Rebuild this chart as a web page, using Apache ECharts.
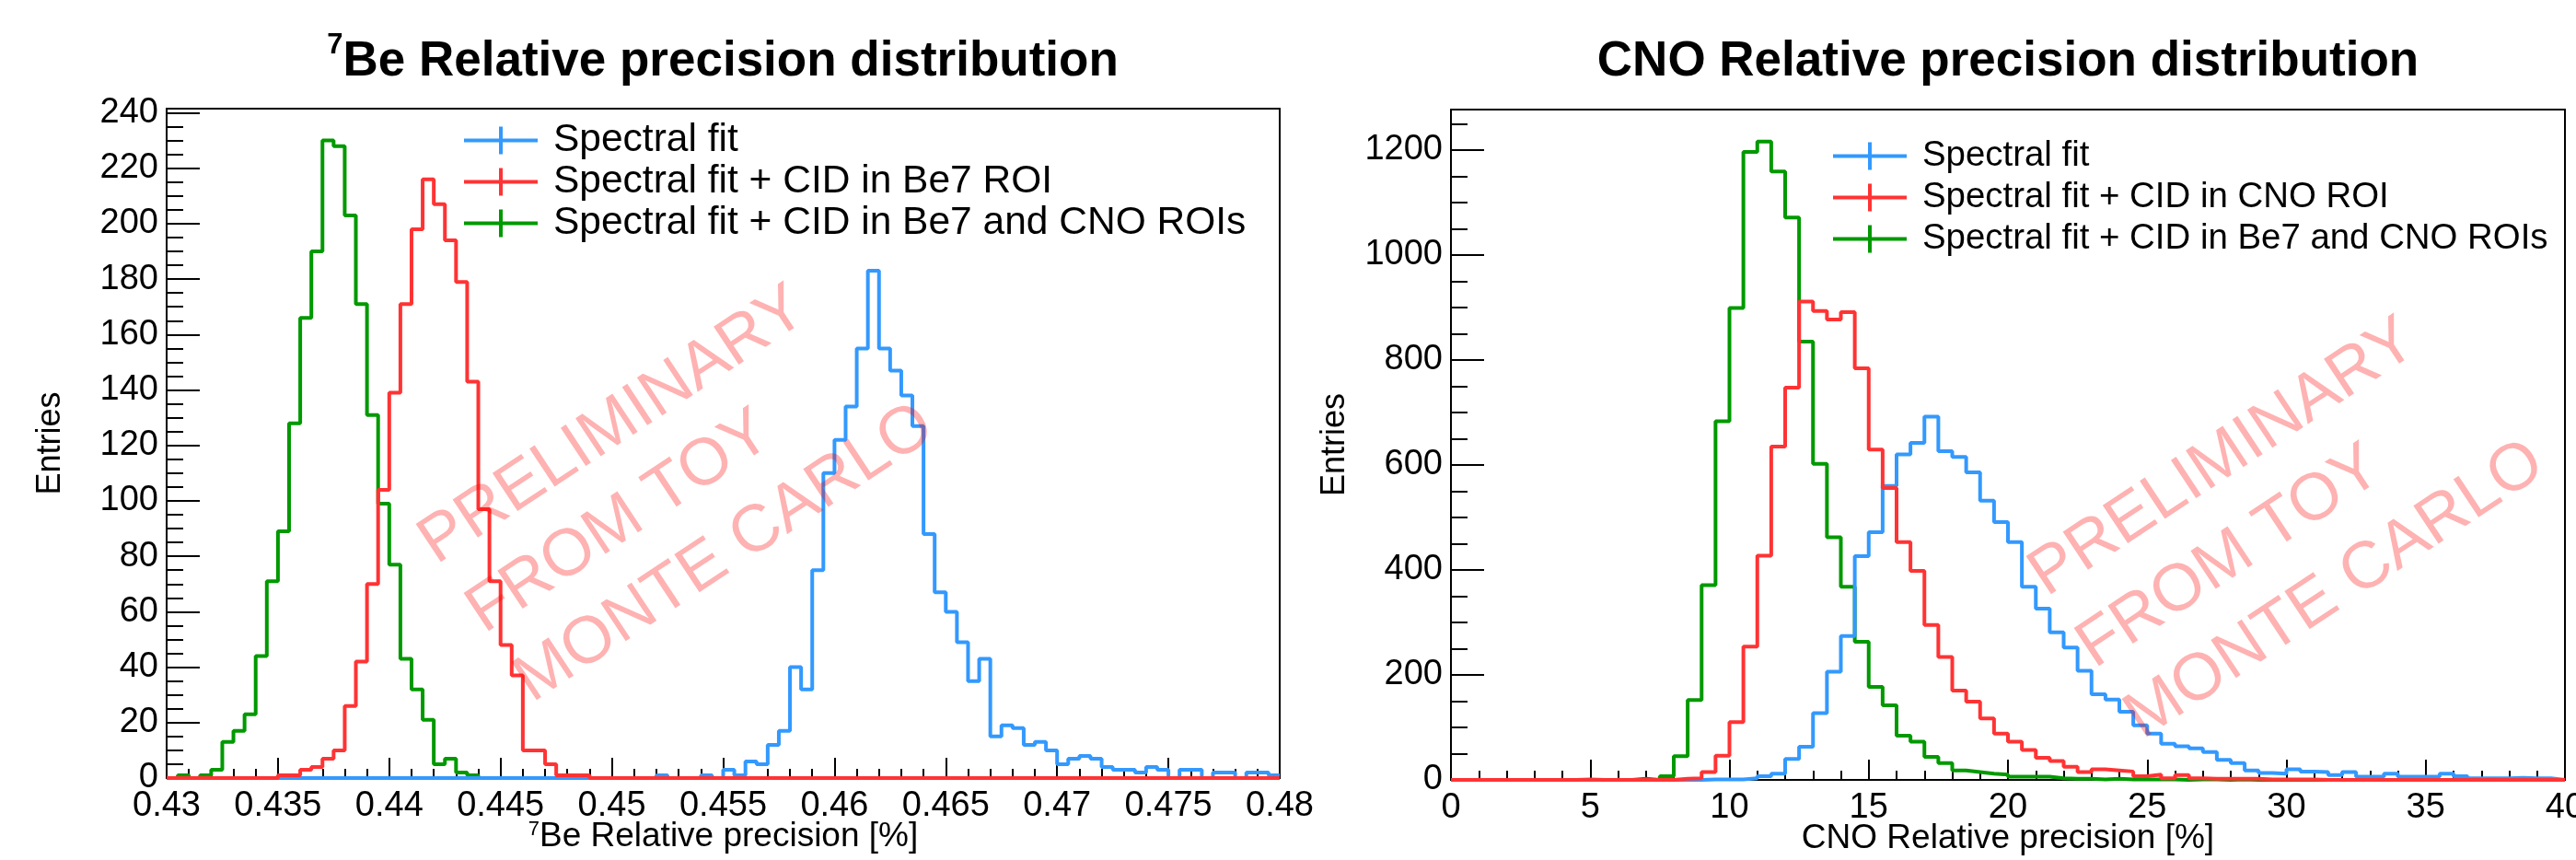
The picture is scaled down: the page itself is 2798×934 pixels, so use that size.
<!DOCTYPE html>
<html>
<head>
<meta charset="utf-8">
<script src="https://cdn.jsdelivr.net/npm/echarts@6/dist/echarts.min.js"></script>
<style>
  html, body { margin: 0; padding: 0; background: #fff; }
  #chart { width: 2798px; height: 934px; }
</style>
</head>
<body>
<div id="chart"></div>
<script>
// binning
const beRange = [0.43, 0.48];
const beBinWidth = 0.0005;
const cnoRange = [0, 40];
const cnoBinWidth = 0.5;

// 7Be relative precision, 100 bins
const beSpectral = [
  0,0,0,0,0,0,0,0,0,0,
  0,0,0,0,0,0,0,0,0,0,
  0,0,0,0,0,0,0,0,0,0,
  0,0,0,0,0,0,0,0,0,0,
  0,0,0,0,1,0,0,0,1,0,
  3,1,6,5,12,17,40,32,75,110,
  122,134,155,183,155,147,138,127,88,67,
  60,49,35,43,15,19,18,12,13,10,
  5,7,8,7,4,3,3,2,4,3,
  0,3,3,0,2,2,0,2,2,1
];
const beCidBe7 = [
  0,0,0,0,0,0,0,0,0,0,
  1,1,3,4,7,10,26,42,70,104,
  139,171,198,216,207,194,179,143,97,71,
  48,37,10,10,5,1,1,1,0,0,
  0,0,0,0,0,0,0,0,0,0,
  0,0,0,0,0,0,0,0,0,0,
  0,0,0,0,0,0,0,0,0,0,
  0,0,0,0,0,0,0,0,0,0,
  0,0,0,0,0,0,0,0,0,0,
  0,0,0,0,0,0,0,0,0,0
];
const beCidBoth = [
  0,1,0,1,3,13,17,23,44,71,
  89,128,166,190,230,228,203,171,131,99,
  77,43,32,21,5,7,2,1,0,0,
  0,0,0,0,0,0,0,0,0,0,
  0,0,0,0,0,0,0,0,0,0,
  0,0,0,0,0,0,0,0,0,0,
  0,0,0,0,0,0,0,0,0,0,
  0,0,0,0,0,0,0,0,0,0,
  0,0,0,0,0,0,0,0,0,0,
  0,0,0,0,0,0,0,0,0,0
];

// CNO relative precision, 80 bins
const cnoSpectral = [
  0,0,0,0,0,0,0,0,0,0,
  0,0,0,0,0,0,0,0,1,1,
  1,3,7,12,40,63,127,206,274,426,
  472,560,620,642,692,626,615,586,532,491,
  453,368,326,281,252,208,163,153,130,104,
  88,69,64,60,53,38,32,18,13,12,
  20,16,15,9,15,6,6,12,6,6,
  6,12,7,3,3,3,4,3,3,0
];
const cnoCidCno = [
  0,0,0,0,0,0,0,0,0,1,
  0,0,0,0,0,0,2,3,15,46,
  110,254,427,635,747,911,893,877,891,784,
  629,556,453,398,295,234,170,149,117,88,
  73,57,42,36,25,15,20,18,16,7,
  10,3,9,3,2,2,2,2,1,1,
  1,1,0,0,0,0,0,0,0,0,
  0,0,0,0,0,0,0,0,0,0
];
const cnoCidBoth = [
  0,0,0,0,0,0,0,0,0,0,
  0,0,0,2,0,7,45,152,371,683,
  899,1196,1216,1159,1071,835,602,462,368,263,
  177,142,84,73,44,32,18,15,12,10,
  6,6,6,3,2,2,1,2,1,1,
  1,1,0,1,1,0,1,0,0,0,
  0,0,0,0,0,0,0,0,0,0,
  0,0,0,0,0,0,0,0,0,0
];

// axis ranges and ticks
const beYMax = 241.5;
const cnoYMax = 1276.8;
const beYTicks = [0,20,40,60,80,100,120,140,160,180,200,220,240];
const beYMinor = [0,5,10,15,20,25,30,35,40,45,50,55,60,65,70,75,80,85,90,95,100,105,110,115,120,
  125,130,135,140,145,150,155,160,165,170,175,180,185,190,195,200,205,210,215,220,225,230,235,240];
const cnoYTicks = [0,200,400,600,800,1000,1200];
const cnoYMinor = [0,50,100,150,200,250,300,350,400,450,500,550,600,650,700,750,800,850,900,950,
  1000,1050,1100,1150,1200,1250];

const names = {
  spectral: 'Spectral fit',
  be7: 'Spectral fit + CID in Be7 ROI',
  cno: 'Spectral fit + CID in CNO ROI',
  both: 'Spectral fit + CID in Be7 and CNO ROIs'
};
const colors = { blue: '#3399ff', red: '#ff3333', green: '#009900' };

const FONT = 'Liberation Sans';

const chart = echarts.init(document.getElementById('chart'));

// bin contents -> points at bin low edges (+ closing point) for a step line
function toSteps(lo, width, counts) {
  const pts = counts.map((c, i) => [lo + i * width, c]);
  pts.push([lo + counts.length * width, counts[counts.length - 1]]);
  return pts;
}

function hist(name, color, panel, lo, width, counts) {
  return {
    name: name,
    type: 'line',
    step: 'end',
    xAxisIndex: panel,
    yAxisIndex: panel * 2,
    data: toSteps(lo, width, counts),
    symbol: 'none',
    showSymbol: false,
    color: color,
    itemStyle: { color: color },
    lineStyle: { color: color, width: 4 },
    animation: false
  };
}

function xAxis(panel, min, max, interval, name) {
  return {
    type: 'value',
    gridIndex: panel,
    min: min,
    max: max,
    interval: interval,
    name: name,
    nameLocation: 'middle',
    nameGap: 45,
    nameMoveOverlap: false,
    nameTextStyle: {
      fontFamily: FONT, fontSize: 37, color: '#000',
      rich: { s: { fontFamily: FONT, fontSize: 22, color: '#000', verticalAlign: 'top', lineHeight: 22 } }
    },
    axisLine: { show: true, lineStyle: { color: '#000', width: 2 } },
    axisTick: { show: true, inside: true, length: 22, lineStyle: { color: '#000', width: 2 } },
    minorTick: { show: true, splitNumber: 5, length: 10, lineStyle: { color: '#000', width: 2 } },
    axisLabel: { fontFamily: FONT, fontSize: 38, color: '#000', margin: 12 },
    splitLine: { show: false },
    minorSplitLine: { show: false }
  };
}

function yAxes(panel, max, ticks, minor) {
  return [{
    type: 'value',
    gridIndex: panel,
    min: 0,
    max: max,
    interval: ticks[1],
    name: 'Entries',
    nameLocation: 'middle',
    nameRotate: 90,
    nameGap: 108,
    nameMoveOverlap: false,
    nameTextStyle: { fontFamily: FONT, fontSize: 36, color: '#000' },
    axisLine: { show: true, lineStyle: { color: '#000', width: 2 } },
    axisTick: { show: true, inside: true, length: 36, customValues: ticks, lineStyle: { color: '#000', width: 2 } },
    axisLabel: {
      customValues: ticks, fontFamily: FONT, fontSize: 38, color: '#000', margin: 9,
      formatter: (v) => String(v)
    },
    splitLine: { show: false }
  }, {
    type: 'value',
    gridIndex: panel,
    min: 0,
    max: max,
    position: 'left',
    axisLine: { show: false },
    axisTick: { show: true, inside: true, length: 18, customValues: minor, lineStyle: { color: '#000', width: 2 } },
    axisLabel: { show: false },
    splitLine: { show: false }
  }];
}

function legend(left, top, fontSize, items) {
  return {
    left: left,
    top: top,
    orient: 'vertical',
    padding: 0,
    itemGap: 0,
    itemWidth: 80,
    itemHeight: 30,
    selectedMode: false,
    icon: 'path://M0,13L80,13L80,17L0,17Z M38,0L42,0L42,30L38,30Z',
    data: items,
    textStyle: { fontFamily: FONT, fontSize: fontSize, color: '#000', lineHeight: 45, padding: [0, 0, 0, 12] }
  };
}

function title(x, text) {
  return {
    text: text,
    left: x,
    top: 34,
    padding: 0,
    textAlign: 'center',
    textStyle: {
      rich: {
        s: { fontFamily: FONT, fontSize: 31, fontWeight: 'bold', color: '#000', verticalAlign: 'top', lineHeight: 30 },
        t: { fontFamily: FONT, fontSize: 53, fontWeight: 'bold', color: '#000', lineHeight: 66 }
      }
    }
  };
}

function watermark(x, y, text) {
  return {
    type: 'text',
    x: x,
    y: y,
    rotation: 0.585,
    z: 100,
    silent: true,
    style: {
      text: text,
      fontFamily: FONT,
      fontSize: 72,
      fill: 'rgba(255,0,0,0.3)',
      align: 'left',
      verticalAlign: 'middle',
      textAlign: 'left',
      textVerticalAlign: 'middle'
    }
  };
}

const option = {
  backgroundColor: '#fff',
  animation: false,
  title: [
    title(785, '{s|7}{t|Be Relative precision distribution}'),
    title(2181, '{t|CNO Relative precision distribution}')
  ],
  grid: [
    { left: 181, top: 118, width: 1209, height: 727, show: true, borderColor: '#000', borderWidth: 2, outerBoundsMode: 'none' },
    { left: 1576, top: 119, width: 1210, height: 728, show: true, borderColor: '#000', borderWidth: 2, outerBoundsMode: 'none' }
  ],
  xAxis: [
    xAxis(0, beRange[0], beRange[1], 0.005, '{s|7}Be Relative precision [%]'),
    xAxis(1, cnoRange[0], cnoRange[1], 5, 'CNO Relative precision [%]')
  ],
  yAxis: yAxes(0, beYMax, beYTicks, beYMinor).concat(yAxes(1, cnoYMax, cnoYTicks, cnoYMinor)),
  legend: [
    legend(504, 130, 42.5, [names.spectral, names.be7, names.both]),
    legend(1991, 147, 38.4, [names.spectral, names.cno, names.both])
  ],
  series: [
    hist(names.both, colors.green, 0, beRange[0], beBinWidth, beCidBoth),
    hist(names.spectral, colors.blue, 0, beRange[0], beBinWidth, beSpectral),
    hist(names.be7, colors.red, 0, beRange[0], beBinWidth, beCidBe7),
    hist(names.both, colors.green, 1, cnoRange[0], cnoBinWidth, cnoCidBoth),
    hist(names.spectral, colors.blue, 1, cnoRange[0], cnoBinWidth, cnoSpectral),
    hist(names.cno, colors.red, 1, cnoRange[0], cnoBinWidth, cnoCidCno)
  ],
  graphic: [
    watermark(463, 597, 'PRELIMINARY'),
    watermark(515, 672, 'FROM TOY'),
    watermark(567, 747, 'MONTE CARLO'),
    watermark(2212, 632, 'PRELIMINARY'),
    watermark(2264, 710, 'FROM TOY'),
    watermark(2316, 787, 'MONTE CARLO')
  ]
};

chart.setOption(option);
</script>
</body>
</html>
